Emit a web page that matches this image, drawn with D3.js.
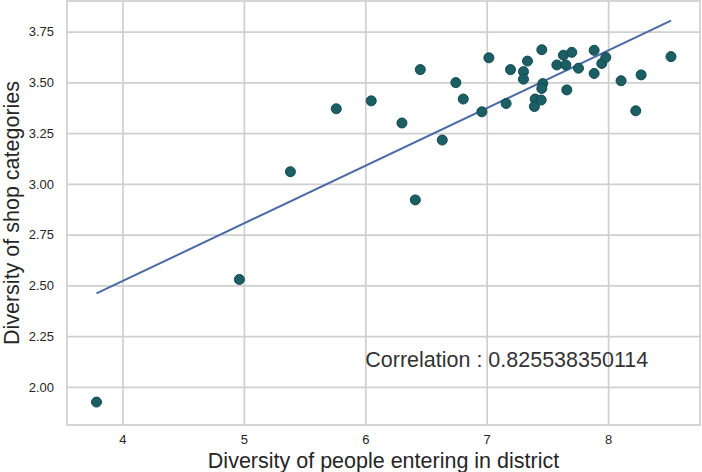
<!DOCTYPE html>
<html>
<head>
<meta charset="utf-8">
<script src="https://cdn.jsdelivr.net/npm/d3@7"></script>
<style>
  html, body { margin: 0; padding: 0; background: #fff; }
  svg { display: block; font-family: "Liberation Sans", Arial, sans-serif; }
</style>
</head>
<body>
<div id="chart"></div>
<script>
// Diversity of people entering in district (x) vs diversity of shop categories (y)
const peopleDiversity = [
  3.786, 4.963, 5.383, 5.761, 6.049, 6.302, 6.412, 6.453, 6.634, 6.746,
  6.807, 6.960, 7.018, 7.160, 7.196, 7.303, 7.303, 7.336, 7.399, 7.393,
  7.449, 7.454, 7.462, 7.454, 7.578, 7.632, 7.652, 7.701, 7.660, 7.756,
  7.885, 7.885, 7.948, 7.981, 8.107, 8.272, 8.228, 8.518
];
const shopDiversity = [
  1.925, 2.529, 3.060, 3.370, 3.409, 3.300, 2.921, 3.563, 3.216, 3.499,
  3.418, 3.355, 3.621, 3.396, 3.563, 3.553, 3.516, 3.605, 3.418, 3.381,
  3.413, 3.661, 3.494, 3.470, 3.586, 3.634, 3.586, 3.648, 3.463, 3.570,
  3.658, 3.544, 3.593, 3.623, 3.508, 3.537, 3.360, 3.627
];
const xTicks = [4, 5, 6, 7, 8];
const yTicks = [2.00, 2.25, 2.50, 2.75, 3.00, 3.25, 3.50, 3.75];
const xDomain = [3.543, 8.757];
const yDomain = [1.812, 3.901];
const annotation = { x: 6.0, y: 2.1, text: "Correlation : 0.825538350114" };
const xLabel = "Diversity of people entering in district";
const yLabel = "Diversity of shop categories";

const W = 702, H = 472;
const m = { left: 67, right: 2, top: 1, bottom: 47 };

const svg = d3.select("#chart").append("svg").attr("width", W).attr("height", H);

const x = d3.scaleLinear().domain(xDomain).range([m.left, W - m.right]);
const y = d3.scaleLinear().domain(yDomain).range([H - m.bottom, m.top]);

const gridColor = "#cfcfcf";
const textColor = "#262626";

// grid
const xAxis = d3.axisBottom(x).tickValues(xTicks).tickFormat(d3.format("d"))
  .tickSize(-(H - m.bottom - m.top)).tickPadding(10);
const yAxis = d3.axisLeft(y).tickValues(yTicks).tickFormat(d3.format(".2f"))
  .tickSize(-(W - m.left - m.right)).tickPadding(13);

const gx = svg.append("g").attr("transform", `translate(0,${H - m.bottom})`).call(xAxis);
const gy = svg.append("g").attr("transform", `translate(${m.left},0)`).call(yAxis);
[gx, gy].forEach(g => {
  g.select(".domain").remove();
  g.selectAll(".tick line").attr("stroke", gridColor).attr("stroke-width", 1.7);
  g.selectAll(".tick text").attr("fill", textColor).style("font-size", "13px");
});

// frame
svg.append("rect")
  .attr("x", m.left).attr("y", m.top)
  .attr("width", W - m.left - m.right).attr("height", H - m.bottom - m.top)
  .attr("fill", "none").attr("stroke", gridColor).attr("stroke-width", 1.7);

// regression line (least squares from the data)
const n = peopleDiversity.length;
const mx = d3.mean(peopleDiversity), my = d3.mean(shopDiversity);
let sxy = 0, sxx = 0;
for (let i = 0; i < n; i++) {
  sxy += (peopleDiversity[i] - mx) * (shopDiversity[i] - my);
  sxx += (peopleDiversity[i] - mx) ** 2;
}
const slope = sxy / sxx, intercept = my - slope * mx;
const [xmin, xmax] = d3.extent(peopleDiversity);
svg.append("path")
  .datum([xmin, xmax])
  .attr("d", d3.line().x(d => x(d)).y(d => y(intercept + slope * d)))
  .attr("stroke", "#4a6aa6").attr("stroke-width", 2).attr("fill", "none");

// points
svg.append("g").selectAll("circle")
  .data(d3.range(n))
  .join("circle")
  .attr("cx", i => x(peopleDiversity[i]))
  .attr("cy", i => y(shopDiversity[i]))
  .attr("r", 5)
  .attr("fill", "#1b5f65")
  .attr("stroke", "#114a4f")
  .attr("stroke-width", 1);

// annotation
svg.append("text")
  .attr("x", x(annotation.x)).attr("y", y(annotation.y))
  .attr("fill", "#333").style("font-size", "21.5px")
  .text(annotation.text);

// axis labels
svg.append("text")
  .attr("x", (m.left + W - m.right) / 2).attr("y", 468)
  .attr("text-anchor", "middle").attr("fill", textColor).style("font-size", "21.5px")
  .text(xLabel);
svg.append("text")
  .attr("transform", `translate(19,${(m.top + H - m.bottom) / 2}) rotate(-90)`)
  .attr("text-anchor", "middle").attr("fill", textColor).style("font-size", "21.5px")
  .text(yLabel);
</script>
</body>
</html>
